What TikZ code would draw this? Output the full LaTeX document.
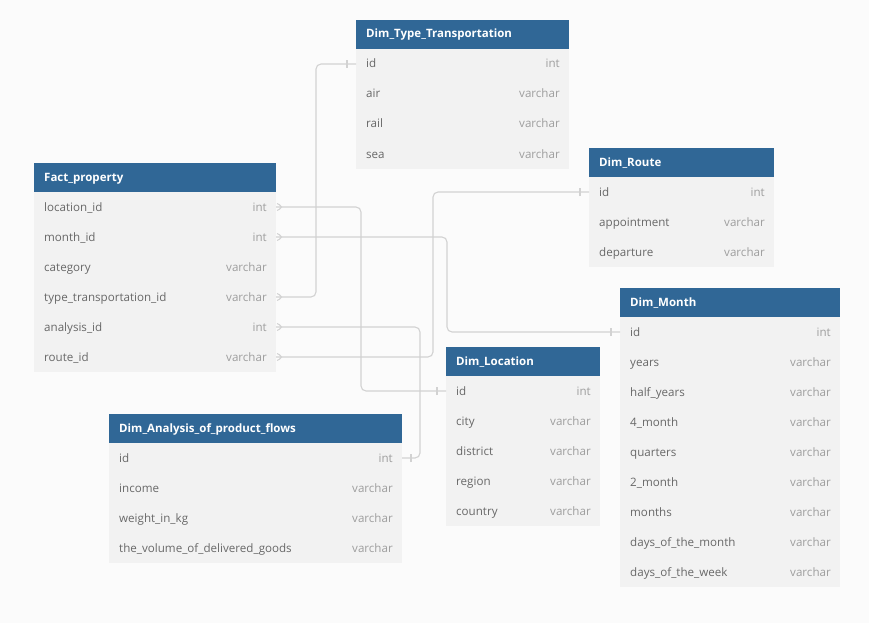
\documentclass[tikz,border=0pt]{standalone}
\usepackage{fontspec}
\setmainfont{Open Sans}
\usetikzlibrary{positioning}

\definecolor{hdrblue}{RGB}{48,103,150}
\definecolor{rowbg}{RGB}{242,242,242}
\definecolor{fldgray}{RGB}{104,104,104}
\definecolor{typgray}{RGB}{158,158,158}
\definecolor{linkgray}{RGB}{210,210,210}
\definecolor{pagebg}{RGB}{251,251,251}

\begin{document}
\begin{tikzpicture}[x=1pt, y=1pt,
		hdr/.style = {fill=hdrblue, anchor=north west, minimum height=29pt, inner sep=0pt, outer sep=0pt},
		rowbox/.style = {fill=rowbg, minimum height=30pt, inner sep=0pt, outer sep=0pt},
		hdrtxt/.style = {text=white, font=\fontsize{11.5}{13}\selectfont\bfseries, inner sep=0pt, text height=9pt, text depth=2pt},
		fld/.style = {text=fldgray, font=\fontsize{11.6}{13}\selectfont, inner sep=0pt, text height=9.5pt, text depth=1.5pt},
		typ/.style = {text=typgray, font=\fontsize{11.6}{13}\selectfont, inner sep=0pt, text height=9.5pt, text depth=1.5pt},
		link/.style = {draw=linkgray, line width=1.1pt, rounded corners=5pt}]
		\fill[pagebg] (0,0) rectangle (869,-623);
		\useasboundingbox (0,0) rectangle (869,-623);
		% fact table
		\node[hdr, minimum width=242pt, alias=fact-0] (fact) at (34,-163) {};
		\node[hdrtxt, right=10pt of fact.west] {Fact\_property};
		\foreach \n/\t [count=\i, evaluate=\i as \j using int(\i-1)] in {location\_id/int, month\_id/int, category/varchar, type\_transportation\_id/varchar, analysis\_id/int, route\_id/varchar}
		{
			\node[rowbox, minimum width=242pt, below=0pt of fact-\j] (fact-\i) {};
			\node[fld, right=10pt of fact-\i.west] {\n};
			\node[typ, left=9pt of fact-\i.east] {\t};
		}
		% dimension tables
		\node[hdr, minimum width=213pt, alias=trans-0] (trans) at (356,-20) {};
		\node[hdrtxt, right=10pt of trans.west] {Dim\_Type\_Transportation};
		\foreach \n/\t [count=\i, evaluate=\i as \j using int(\i-1)] in {id/int, air/varchar, rail/varchar, sea/varchar}
		{
			\node[rowbox, minimum width=213pt, below=0pt of trans-\j] (trans-\i) {};
			\node[fld, right=10pt of trans-\i.west] {\n};
			\node[typ, left=9pt of trans-\i.east] {\t};
		}
		\node[hdr, minimum width=185pt, alias=route-0] (route) at (589,-148) {};
		\node[hdrtxt, right=10pt of route.west] {Dim\_Route};
		\foreach \n/\t [count=\i, evaluate=\i as \j using int(\i-1)] in {id/int, appointment/varchar, departure/varchar}
		{
			\node[rowbox, minimum width=185pt, below=0pt of route-\j] (route-\i) {};
			\node[fld, right=10pt of route-\i.west] {\n};
			\node[typ, left=9pt of route-\i.east] {\t};
		}
		\node[hdr, minimum width=220pt, alias=month-0] (month) at (620,-288) {};
		\node[hdrtxt, right=10pt of month.west] {Dim\_Month};
		\foreach \n/\t [count=\i, evaluate=\i as \j using int(\i-1)] in {id/int, years/varchar, half\_years/varchar, 4\_month/varchar, quarters/varchar, 2\_month/varchar, months/varchar, days\_of\_the\_month/varchar, days\_of\_the\_week/varchar}
		{
			\node[rowbox, minimum width=220pt, below=0pt of month-\j] (month-\i) {};
			\node[fld, right=10pt of month-\i.west] {\n};
			\node[typ, left=9pt of month-\i.east] {\t};
		}
		\node[hdr, minimum width=154pt, alias=loc-0] (loc) at (446,-347) {};
		\node[hdrtxt, right=10pt of loc.west] {Dim\_Location};
		\foreach \n/\t [count=\i, evaluate=\i as \j using int(\i-1)] in {id/int, city/varchar, district/varchar, region/varchar, country/varchar}
		{
			\node[rowbox, minimum width=154pt, below=0pt of loc-\j] (loc-\i) {};
			\node[fld, right=10pt of loc-\i.west] {\n};
			\node[typ, left=9pt of loc-\i.east] {\t};
		}
		\node[hdr, minimum width=293pt, alias=ana-0] (ana) at (109,-414) {};
		\node[hdrtxt, right=10pt of ana.west] {Dim\_Analysis\_of\_product\_flows};
		\foreach \n/\t [count=\i, evaluate=\i as \j using int(\i-1)] in {id/int, income/varchar, weight\_in\_kg/varchar, the\_volume\_of\_delivered\_goods/varchar}
		{
			\node[rowbox, minimum width=293pt, below=0pt of ana-\j] (ana-\i) {};
			\node[fld, right=10pt of ana-\i.west] {\n};
			\node[typ, left=9pt of ana-\i.east] {\t};
		}
		% references
		\draw[link] (fact-1.east) -- ++(85,0) |- (loc-1.west);
		\draw[link] (fact-2.east) -- ++(171,0) |- (month-1.west);
		\draw[link] (fact-4.east) -- ++(40,0) |- (trans-1.west);
		\draw[link] (fact-5.east) -- ++(144,0) |- (ana-1.east);
		\draw[link] (fact-6.east) -- ++(157,0) |- (route-1.west);
		\foreach \r in {1,2,4,5,6}
			\draw[link] ([shift={(1,3.5)}]fact-\r.east) -- ++(7,-3.5) -- ++(-7,-3.5);
		\foreach \d in {loc,month,trans,route}
			\draw[link] ([shift={(-9,-4)}]\d-1.west) -- ++(0,8);
		\draw[link] ([shift={(9,-4)}]ana-1.east) -- ++(0,8);
	\end{tikzpicture}
\end{document}
